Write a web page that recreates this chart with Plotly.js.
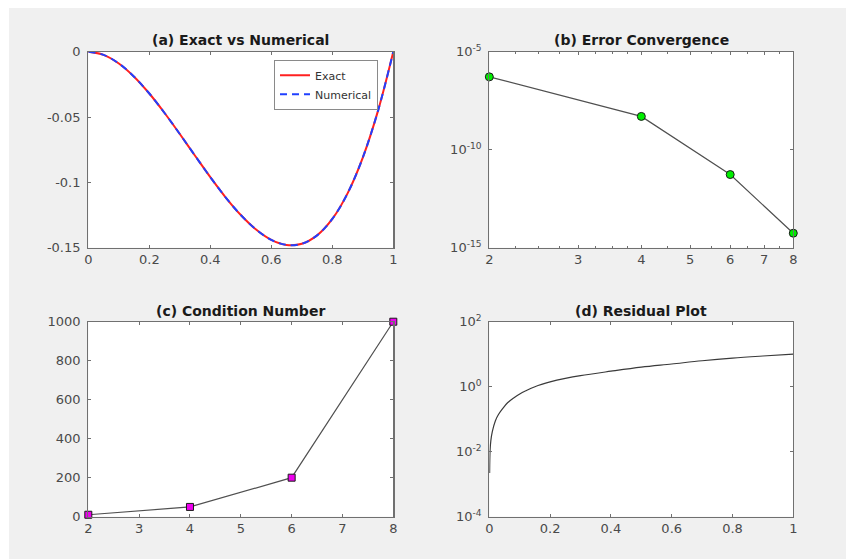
<!DOCTYPE html>
<html>
<head>
<meta charset="utf-8">
<script src="https://cdn.plot.ly/plotly-3.0.1.min.js"></script>
<style>html,body{margin:0;padding:0;background:#f0f0f0;}#chart{width:846px;height:559px;}</style>
</head>
<body>
<div id="chart"></div>
<script>
// (a) Exact vs Numerical
const aX = [0, 0.05, 0.1, 0.15, 0.2, 0.25, 0.3, 0.35, 0.4, 0.45, 0.5, 0.55, 0.6, 0.65, 0.7, 0.75, 0.8, 0.85, 0.9, 0.95, 1];
const aExact = [0, -0.0024, -0.009, -0.0191, -0.032, -0.0469, -0.063, -0.0796, -0.096, -0.1114, -0.125, -0.1361, -0.144, -0.1479, -0.147, -0.1406, -0.128, -0.1084, -0.081, -0.0451, 0];
const aNumerical = [0, -0.0024, -0.009, -0.0191, -0.032, -0.0469, -0.063, -0.0796, -0.096, -0.1114, -0.125, -0.1361, -0.144, -0.1479, -0.147, -0.1406, -0.128, -0.1084, -0.081, -0.0451, 0];
const aXTicks = [0, 0.2, 0.4, 0.6, 0.8, 1];
const aXTickText = ['0', '0.2', '0.4', '0.6', '0.8', '1'];
const aYTicks = [0, -0.05, -0.1, -0.15];
const aYTickText = ['0', '-0.05', '-0.1', '-0.15'];

// (b) Error Convergence
const bN = [2, 4, 6, 8];
const bError = [5.2e-7, 5e-9, 5.4e-12, 5.5e-15];
const bXTicks = [2, 3, 4, 5, 6, 7, 8];
const bXMinor = [2.25, 2.5, 2.75, 3.25, 3.5, 3.75, 4.5, 5.5, 6.5, 7.5];
const bYTicks = [1e-15, 1e-10, 1e-5];
const bYTickText = ['10<sup>-15</sup>', '10<sup>-10</sup>', '10<sup>-5</sup>'];

// (c) Condition Number
const cN = [2, 4, 6, 8];
const cCond = [10, 50, 200, 1000];
const cXTicks = [2, 3, 4, 5, 6, 7, 8];
const cYTicks = [0, 200, 400, 600, 800, 1000];

// (d) Residual Plot
const dX = [0.001, 0.0025, 0.005, 0.01, 0.02, 0.03, 0.045, 0.06, 0.08, 0.1, 0.12, 0.15, 0.2, 0.25, 0.3, 0.4, 0.5, 0.6, 0.7, 0.8, 0.9, 1.0];
const dResidual = [0.0022, 0.011, 0.022, 0.042, 0.09, 0.14, 0.22, 0.32, 0.45, 0.6, 0.75, 1.0, 1.4, 1.8, 2.2, 3.0, 4.0, 5.0, 6.3, 7.6, 8.8, 10];
const dXTicks = [0, 0.2, 0.4, 0.6, 0.8, 1];
const dXTickText = ['0', '0.2', '0.4', '0.6', '0.8', '1'];
const dYTicks = [1e-4, 1e-2, 1e0, 1e2];
const dYTickText = ['10<sup>-4</sup>', '10<sup>-2</sup>', '10<sup>0</sup>', '10<sup>2</sup>'];

const FONT = 'DejaVu Sans, Liberation Sans, Arial, sans-serif';
const TICKCOL = '#4a4a4a';

function ax(extra) {
  return Object.assign({
    showline: true, linecolor: '#707070', linewidth: 1.2, mirror: 'ticks',
    ticks: 'inside', ticklen: 3, tickcolor: '#707070', tickwidth: 1,
    showgrid: false, zeroline: false, fixedrange: true,
    tickfont: {family: FONT, size: 13, color: TICKCOL},
    tickmode: 'array'
  }, extra);
}
function yax(extra) {
  return ax(Object.assign({ticklabelstandoff: 4}, extra));
}

const xL = [0.1044, 0.4649], xR = [0.5784, 0.9377];
const yT = [0.5569, 0.9075], yB = [0.0757, 0.4245];

const traces = [
  {x: aX, y: aExact, type: 'scatter', mode: 'lines', name: 'Exact', line: {color: '#ff2020', width: 2, shape: 'spline'}, xaxis: 'x', yaxis: 'y'},
  {x: aX, y: aNumerical, type: 'scatter', mode: 'lines', name: 'Numerical', line: {color: '#2040ff', width: 2, dash: '7px,5px', shape: 'spline'}, xaxis: 'x', yaxis: 'y'},
  {x: bN, y: bError, type: 'scatter', mode: 'lines+markers', showlegend: false, cliponaxis: false,
   line: {color: '#505050', width: 1.2}, marker: {symbol: 'circle', size: 8, color: '#00ee00', line: {color: '#1a1a1a', width: 1}}, xaxis: 'x2', yaxis: 'y2'},
  {x: cN, y: cCond, type: 'scatter', mode: 'lines+markers', showlegend: false, cliponaxis: false,
   line: {color: '#505050', width: 1.2}, marker: {symbol: 'square', size: 7, color: '#ee00ee', line: {color: '#1a1a1a', width: 1}}, xaxis: 'x3', yaxis: 'y3'},
  {x: dX, y: dResidual, type: 'scatter', mode: 'lines', showlegend: false,
   line: {color: '#3a3a3a', width: 1.2, shape: 'spline'}, xaxis: 'x4', yaxis: 'y4'}
];

function title(text, x, y) {
  return {text: text, xref: 'paper', yref: 'paper', x: x, y: y, xanchor: 'center', yanchor: 'middle', showarrow: false,
          font: {family: FONT, size: 14, color: '#1a1a1a', weight: 'bold'}};
}

const layout = {
  width: 846, height: 559,
  margin: {l: 0, r: 0, t: 0, b: 0},
  paper_bgcolor: '#f0f0f0', plot_bgcolor: '#ffffff',
  showlegend: true,
  legend: {x: 0.4468, y: 0.893, xanchor: 'right', yanchor: 'top', bgcolor: '#ffffff', bordercolor: '#8a8a8a', borderwidth: 1,
           font: {family: FONT, size: 11, color: '#333'}, tracegroupgap: 0, itemwidth: 30},
  xaxis: ax({domain: xL, anchor: 'y', range: [0, 1], tickvals: aXTicks, ticktext: aXTickText}),
  yaxis: yax({domain: yT, anchor: 'x', range: [-0.15, 0], tickvals: aYTicks, ticktext: aYTickText}),
  xaxis2: ax({domain: xR, anchor: 'y2', type: 'log', range: [Math.log10(1.9999), Math.log10(8.0001)], tickvals: bXTicks, ticktext: bXTicks.map(String),
              minor: {tickmode: 'array', tickvals: bXMinor, ticks: 'inside', ticklen: 2, tickcolor: '#707070'}}),
  yaxis2: yax({domain: yT, anchor: 'x2', type: 'log', range: [-15, -5], tickvals: bYTicks, ticktext: bYTickText}),
  xaxis3: ax({domain: xL, anchor: 'y3', range: [2, 8], tickvals: cXTicks, ticktext: cXTicks.map(String)}),
  yaxis3: yax({domain: yB, anchor: 'x3', range: [0, 1000], tickvals: cYTicks, ticktext: cYTicks.map(String)}),
  xaxis4: ax({domain: xR, anchor: 'y4', range: [0, 1], tickvals: dXTicks, ticktext: dXTickText}),
  yaxis4: yax({domain: yB, anchor: 'x4', type: 'log', range: [-4, 2], tickvals: dYTicks, ticktext: dYTickText}),
  annotations: [
    title('(a) Exact vs Numerical', 0.2846, 0.9293),
    title('(b) Error Convergence', 0.758, 0.9293),
    title('(c) Condition Number', 0.2846, 0.4436),
    title('(d) Residual Plot', 0.758, 0.4436)
  ],
  shapes: [
    {type: 'rect', xref: 'paper', yref: 'paper', x0: 0, x1: 1, y0: 1 - 8 / 559, y1: 1, fillcolor: '#ffffff', line: {width: 0}, layer: 'below'},
    {type: 'rect', xref: 'paper', yref: 'paper', x0: 0, x1: 9 / 846, y0: 0, y1: 1, fillcolor: '#ffffff', line: {width: 0}, layer: 'below'}
  ]
};

Plotly.newPlot('chart', traces, layout, {staticPlot: true, displayModeBar: false});
</script>
</body>
</html>
